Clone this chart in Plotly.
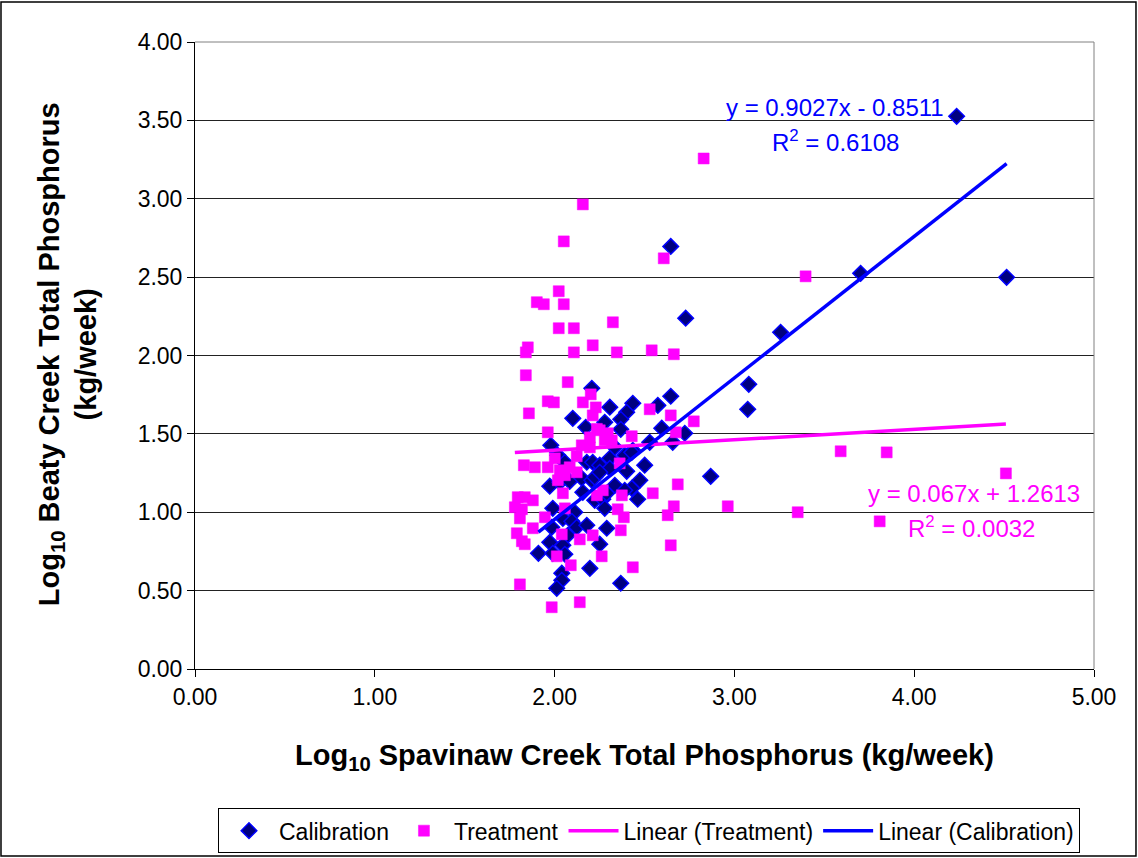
import numpy as np
import plotly.graph_objects as go

# Calibration series (log10 Spavinaw, log10 Beaty)
cal_x = [4.236, 4.514, 3.702, 3.257, 3.080, 3.074, 2.868, 2.646, 2.729, 2.207,
         2.307, 2.435, 2.401, 2.368, 2.574, 2.646, 2.101, 2.173, 2.279, 2.368,
         2.596, 2.724, 2.657, 2.529, 2.335, 2.435, 2.390, 2.307, 2.501, 1.979,
         2.018, 2.057, 2.179, 2.212, 2.251, 2.307, 2.401, 2.474, 2.429, 2.462,
         2.335, 2.390, 1.973, 2.029, 2.084, 2.151, 2.207, 2.223, 2.251, 2.157,
         2.223, 2.268, 2.279, 1.990, 2.112, 2.046, 2.096, 1.984, 2.123, 2.179,
         2.290, 1.973, 2.073, 2.046, 1.910, 1.990, 2.057, 2.251, 2.196, 2.040,
         2.040, 2.012, 2.368, 2.429, 2.290]
cal_y = [3.526, 2.499, 2.524, 2.148, 1.816, 1.657, 1.229, 2.696, 2.238, 1.791,
         1.670, 1.695, 1.638, 1.593, 1.682, 1.740, 1.599, 1.542, 1.574, 1.529,
         1.536, 1.504, 1.446, 1.446, 1.414, 1.395, 1.363, 1.344, 1.300, 1.427,
         1.363, 1.319, 1.319, 1.319, 1.300, 1.280, 1.261, 1.204, 1.153, 1.083,
         1.172, 1.140, 1.166, 1.191, 1.197, 1.217, 1.204, 1.223, 1.255, 1.127,
         1.076, 1.083, 1.025, 1.025, 1.000, 0.961, 0.942, 0.904, 0.904, 0.917,
         0.898, 0.808, 0.853, 0.789, 0.738, 0.738, 0.732, 0.796, 0.642, 0.611,
         0.566, 0.515, 0.547, 1.382, 1.121]

# Treatment series
trt_x = [2.829, 2.157, 2.051, 2.607, 3.396, 2.023, 1.901, 1.940, 2.051, 2.023,
         2.107, 2.324, 1.851, 1.840, 2.107, 2.212, 2.346, 2.540, 2.663, 1.840,
         2.073, 1.962, 1.996, 2.157, 2.201, 2.229, 1.857, 2.212, 2.529, 2.646,
         2.774, 1.962, 2.251, 2.151, 2.196, 2.001, 2.123, 1.829, 1.890, 1.962,
         2.029, 2.084, 2.279, 2.674, 2.429, 2.296, 2.318, 2.362, 2.018, 2.123,
         2.046, 1.795, 1.834, 1.879, 1.779, 1.818, 1.807, 1.946, 2.057, 2.235,
         2.268, 1.879, 1.790, 1.818, 1.834, 2.040, 2.140, 2.212, 2.262, 2.012,
         2.090, 1.807, 1.984, 2.140, 2.374, 2.546, 2.685, 2.351, 2.385, 2.368,
         2.663, 2.629, 2.963, 2.646, 2.435, 3.591, 3.847, 4.510, 3.352, 3.808,
         2.235, 2.196, 2.057]
trt_y = [3.257, 2.964, 2.728, 2.620, 2.505, 2.410, 2.340, 2.327, 2.327, 2.174,
         2.174, 2.212, 2.052, 2.020, 2.020, 2.065, 2.020, 2.033, 2.008, 1.874,
         1.830, 1.708, 1.701, 1.701, 1.752, 1.669, 1.631, 1.618, 1.657, 1.618,
         1.580, 1.510, 1.523, 1.427, 1.414, 1.344, 1.357, 1.300, 1.287, 1.287,
         1.268, 1.287, 1.459, 1.510, 1.485, 1.504, 1.459, 1.312, 1.204, 1.255,
         1.121, 1.096, 1.096, 1.076, 1.032, 1.019, 0.961, 0.968, 1.025, 1.108,
         1.140, 0.898, 0.866, 0.815, 0.796, 0.859, 0.827, 0.853, 0.719, 0.719,
         0.662, 0.540, 0.394, 0.426, 1.108, 1.121, 1.178, 1.019, 0.968, 0.885,
         1.038, 0.981, 1.038, 0.789, 0.649, 1.389, 1.382, 1.248, 1.000, 0.942,
         1.532, 1.478, 1.236]

# Trendline coefficients (from the chart labels)
cal_slope, cal_int, cal_r2 = 0.9027, -0.8511, 0.6108
trt_slope, trt_int, trt_r2 = 0.067, 1.2613, 0.0032

x_ticks = [0, 1, 2, 3, 4, 5]
y_ticks = [0, 0.5, 1, 1.5, 2, 2.5, 3, 3.5, 4]

FONT = "Liberation Sans, Arial, sans-serif"

cal_lx = np.array([min(cal_x), max(cal_x)])
trt_lx = np.array([min(trt_x), max(trt_x)])

fig = go.Figure()
fig.add_trace(go.Scatter(
    x=cal_x, y=cal_y, mode="markers", name="Calibration",
    marker=dict(symbol="diamond", size=12, color="#000080",
                line=dict(color="#0000FF", width=1.5))))
fig.add_trace(go.Scatter(
    x=trt_x, y=trt_y, mode="markers", name="Treatment",
    marker=dict(symbol="square", size=11, color="#FF00FF",
                line=dict(color="#FF00FF", width=0.5))))
fig.add_trace(go.Scatter(
    x=trt_lx, y=trt_slope * trt_lx + trt_int, mode="lines",
    name="Linear (Treatment)", line=dict(color="#FF00FF", width=3.5)))
fig.add_trace(go.Scatter(
    x=cal_lx, y=cal_slope * cal_lx + cal_int, mode="lines",
    name="Linear (Calibration)", line=dict(color="#0000FF", width=3.5)))

fig.update_layout(
    width=1138, height=858,
    margin=dict(l=195, r=44, t=42, b=189, autoexpand=False),
    paper_bgcolor="white", plot_bgcolor="white",
    font=dict(family=FONT, color="black", size=23),
    showlegend=True,
    legend=dict(orientation="h", x=0.505, xanchor="center", y=-0.222,
                yanchor="top", bordercolor="black", borderwidth=1,
                font=dict(size=23, family=FONT), itemwidth=50,
                tracegroupgap=0),
)
fig.update_xaxes(
    range=[0, 5], tickvals=x_ticks, ticktext=[f"{v:.2f}" for v in x_ticks],
    showgrid=False, zeroline=False, showline=True, linecolor="black",
    linewidth=1, ticks="outside", ticklen=7, tickcolor="black",
    tickfont=dict(size=23, family=FONT))
fig.update_yaxes(
    range=[0, 4], tickvals=y_ticks, ticktext=[f"{v:.2f}" for v in y_ticks],
    showgrid=True, gridcolor="#222222", gridwidth=1, zeroline=False,
    showline=True, linecolor="black", linewidth=1, ticks="outside",
    ticklen=7, tickcolor="black", tickfont=dict(size=23, family=FONT))

# plot area right/top border (gray) and outer chart border
fig.add_shape(type="line", xref="paper", yref="paper", x0=1, x1=1, y0=0, y1=1,
              line=dict(color="#808080", width=1))
fig.add_shape(type="line", xref="paper", yref="paper", x0=0, x1=1, y0=1, y1=1,
              line=dict(color="#808080", width=1))
fig.add_shape(type="rect", xref="paper", yref="paper",
              x0=-0.2158, x1=1.0467, y0=-0.2982, y1=1.0638,
              line=dict(color="black", width=1.5))

# Axis titles
fig.add_annotation(xref="paper", yref="paper", x=0.4995, y=-0.1404,
                   text="<b>Log<sub>10</sub> Spavinaw Creek Total Phosphorus (kg/week)</b>",
                   showarrow=False, font=dict(size=29, family=FONT),
                   xanchor="center", yanchor="middle")
fig.add_annotation(xref="paper", yref="paper", x=-0.1413, y=0.502,
                   text="<b>Log<sub>10</sub> Beaty Creek Total Phosphorus</b><br><b>(kg/week)</b>",
                   showarrow=False, textangle=-90, font=dict(size=29, family=FONT),
                   xanchor="center", yanchor="middle")

# Trendline equations
fig.add_annotation(xref="paper", yref="paper", x=0.712, y=0.896,
                   text=f"y = {cal_slope}x - {abs(cal_int)}", showarrow=False,
                   xanchor="center", yanchor="middle",
                   font=dict(size=24, color="#0000FF", family=FONT))
fig.add_annotation(xref="paper", yref="paper", x=0.713, y=0.842,
                   text=f"R<sup>2</sup> = {cal_r2}", showarrow=False,
                   xanchor="center", yanchor="middle",
                   font=dict(size=24, color="#0000FF", family=FONT))
fig.add_annotation(xref="paper", yref="paper", x=0.8665, y=0.2807,
                   text=f"y = {trt_slope}x + {trt_int}", showarrow=False,
                   xanchor="center", yanchor="middle",
                   font=dict(size=24, color="#FF00FF", family=FONT))
fig.add_annotation(xref="paper", yref="paper", x=0.864, y=0.2265,
                   text=f"R<sup>2</sup> = {trt_r2:.4f}", showarrow=False,
                   xanchor="center", yanchor="middle",
                   font=dict(size=24, color="#FF00FF", family=FONT))

fig.write_html("out.html")
